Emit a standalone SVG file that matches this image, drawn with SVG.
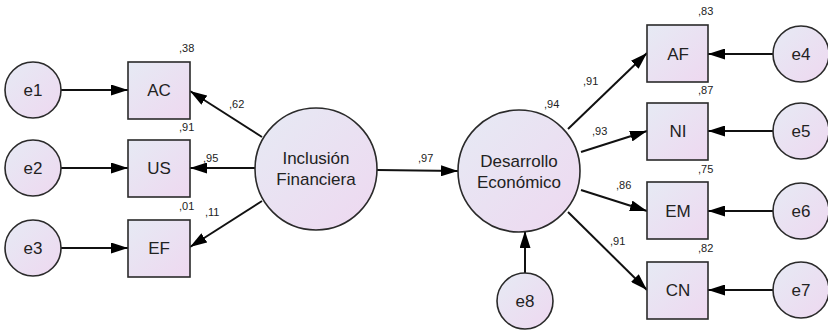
<svg xmlns="http://www.w3.org/2000/svg" width="828" height="335" viewBox="0 0 828 335">
<style>
.n{fill:url(#g);stroke:#2a2a2a;stroke-width:1.6}
.t{font-family:"Liberation Sans",Arial,sans-serif;font-size:17px;fill:#222;text-anchor:middle}
.v{font-family:"Liberation Sans",Arial,sans-serif;font-size:11px;fill:#222}
.e{stroke:#111;stroke-width:2;fill:none;marker-end:url(#a)}
</style>
<defs>
<linearGradient id="g" x1="0" y1="0" x2="1" y2="1">
<stop offset="0" stop-color="#e6eaf4"/>
<stop offset="1" stop-color="#eed8f0"/>
</linearGradient>
<marker id="a" viewBox="0 0 17 11" refX="17" refY="5.5" markerWidth="17" markerHeight="11" markerUnits="userSpaceOnUse" orient="auto">
<path d="M0,0 L17,5.5 L0,11 Z" fill="#000"/>
</marker>
</defs>
<rect width="828" height="335" fill="#fff"/>
<g id="connectors">
<line class="e" x1="61" y1="90" x2="128" y2="90"/>
<line class="e" x1="61" y1="168" x2="128" y2="168"/>
<line class="e" x1="61" y1="248" x2="128" y2="248"/>
<line class="e" x1="262" y1="137" x2="190" y2="91"/>
<line class="e" x1="255" y1="168" x2="190" y2="168"/>
<line class="e" x1="262" y1="201" x2="190" y2="247"/>
<line class="e" x1="377" y1="170" x2="458" y2="171"/>
<line class="e" x1="568" y1="129" x2="647" y2="53"/>
<line class="e" x1="581" y1="152" x2="647" y2="131"/>
<line class="e" x1="581" y1="190" x2="647" y2="211"/>
<line class="e" x1="568" y1="212" x2="647" y2="290"/>
<line class="e" x1="525" y1="273" x2="525" y2="231"/>
<line class="e" x1="773" y1="54" x2="708" y2="54"/>
<line class="e" x1="773" y1="131" x2="708" y2="131"/>
<line class="e" x1="773" y1="211" x2="708" y2="211"/>
<line class="e" x1="773" y1="290" x2="708" y2="290"/>
</g>
<g id="e1"><circle class="n" cx="33" cy="90" r="28"/><text class="t" x="33" y="96">e1</text></g>
<g id="e2"><circle class="n" cx="33" cy="168" r="28"/><text class="t" x="33" y="174">e2</text></g>
<g id="e3"><circle class="n" cx="33" cy="248" r="28"/><text class="t" x="33" y="254">e3</text></g>
<g id="AC"><rect class="n" x="128" y="62" width="62" height="57"/><text class="t" x="159" y="96">AC</text></g>
<g id="US"><rect class="n" x="128" y="140" width="62" height="57"/><text class="t" x="159" y="174">US</text></g>
<g id="EF"><rect class="n" x="128" y="220" width="62" height="57"/><text class="t" x="159" y="254">EF</text></g>
<g id="IF"><circle class="n" cx="316" cy="169" r="61"/><text class="t" x="316" y="164">Inclusión</text><text class="t" x="316" y="185">Financiera</text></g>
<g id="DE"><circle class="n" cx="519" cy="171" r="61"/><text class="t" x="519" y="167">Desarrollo</text><text class="t" x="519" y="188">Económico</text></g>
<g id="e8"><circle class="n" cx="525" cy="301" r="28"/><text class="t" x="525" y="307">e8</text></g>
<g id="AF"><rect class="n" x="647" y="25" width="61" height="57"/><text class="t" x="678" y="60">AF</text></g>
<g id="NI"><rect class="n" x="647" y="103" width="61" height="57"/><text class="t" x="678" y="137">NI</text></g>
<g id="EM"><rect class="n" x="647" y="182" width="61" height="57"/><text class="t" x="678" y="217">EM</text></g>
<g id="CN"><rect class="n" x="647" y="262" width="61" height="57"/><text class="t" x="678" y="296">CN</text></g>
<g id="e4"><circle class="n" cx="801" cy="54" r="28"/><text class="t" x="801" y="60">e4</text></g>
<g id="e5"><circle class="n" cx="801" cy="131" r="28"/><text class="t" x="801" y="137">e5</text></g>
<g id="e6"><circle class="n" cx="801" cy="211" r="28"/><text class="t" x="801" y="217">e6</text></g>
<g id="e7"><circle class="n" cx="801" cy="290" r="28"/><text class="t" x="801" y="296">e7</text></g>
<g id="labels">
<text class="v" x="179" y="52">,38</text>
<text class="v" x="179" y="131">,91</text>
<text class="v" x="179" y="210">,01</text>
<text class="v" x="229" y="108">,62</text>
<text class="v" x="203" y="162">,95</text>
<text class="v" x="205" y="216">,11</text>
<text class="v" x="418" y="162">,97</text>
<text class="v" x="544" y="108">,94</text>
<text class="v" x="583" y="85">,91</text>
<text class="v" x="592" y="135">,93</text>
<text class="v" x="616" y="189">,86</text>
<text class="v" x="610" y="245">,91</text>
<text class="v" x="698" y="15">,83</text>
<text class="v" x="698" y="94">,87</text>
<text class="v" x="698" y="173">,75</text>
<text class="v" x="698" y="252">,82</text>
</g>
</svg>
